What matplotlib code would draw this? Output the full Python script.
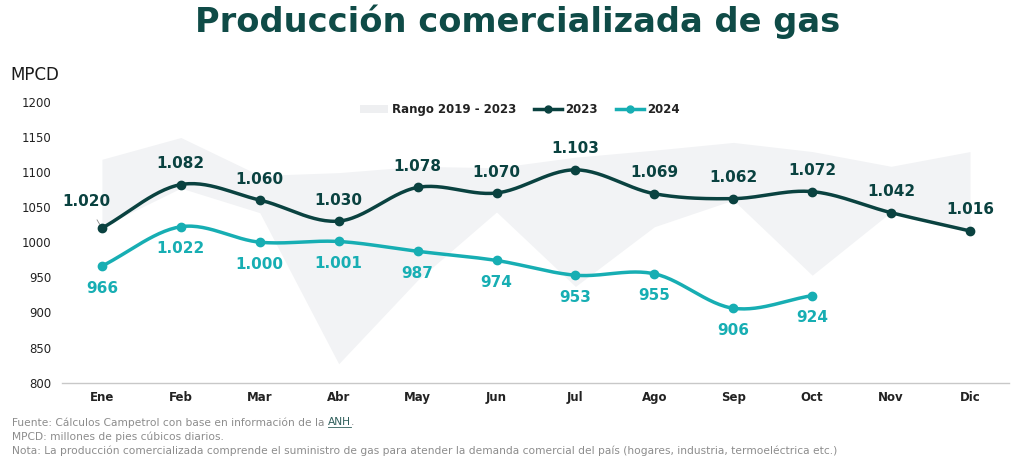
import numpy as np
import matplotlib
matplotlib.use("Agg")
import matplotlib.pyplot as plt
from matplotlib.patches import Patch
from matplotlib.lines import Line2D

months = ["Ene", "Feb", "Mar", "Abr", "May", "Jun", "Jul", "Ago", "Sep", "Oct", "Nov", "Dic"]
prod_2023 = [1020, 1082, 1060, 1030, 1078, 1070, 1103, 1069, 1062, 1072, 1042, 1016]
prod_2024 = [966, 1022, 1000, 1001, 987, 974, 953, 955, 906, 924]
range_upper = [1118, 1149, 1095, 1099, 1108, 1106, 1121, 1131, 1142, 1129, 1108, 1129]
range_lower = [1022, 1077, 1042, 827, 946, 1043, 937, 1022, 1060, 953, 1043, 1018]
yticks = [800, 850, 900, 950, 1000, 1050, 1100, 1150, 1200]

C23 = "#0A4240"
C24 = "#17AEB3"
CT = "#0F4B47"
GRAY = "#F2F3F5"
FOOT = "#8C8C8C"

def fmt(v):
    return f"{v:,}".replace(",", ".")

def smooth(xs, ys, n=30):
    xs = np.asarray(xs, float); ys = np.asarray(ys, float)
    px = np.concatenate([[2*xs[0]-xs[1]], xs, [2*xs[-1]-xs[-2]]])
    py = np.concatenate([[2*ys[0]-ys[1]], ys, [2*ys[-1]-ys[-2]]])
    ox, oy = [], []
    t = np.linspace(0, 1, n)
    for i in range(1, len(px)-2):
        for P, out in ((px, ox), (py, oy)):
            p0, p1, p2, p3 = P[i-1], P[i], P[i+1], P[i+2]
            out.extend(0.5*((2*p1) + (-p0+p2)*t + (2*p0-5*p1+4*p2-p3)*t**2 + (-p0+3*p1-3*p2+p3)*t**3))
    return np.array(ox), np.array(oy)

fig = plt.figure(figsize=(10.21, 4.58), dpi=100)
ax = fig.add_axes([0.0612, 0.1644, 0.9275, 0.6136])
x12 = np.arange(len(months))
x10 = np.arange(len(prod_2024))

ax.fill_between(x12, range_lower, range_upper, color=GRAY, lw=0, zorder=1)

sx, sy = smooth(x12, prod_2023)
ax.plot(sx, sy, color=C23, lw=2.5, zorder=3, solid_capstyle="round")
ax.plot(x12, prod_2023, "o", color=C23, ms=6, zorder=4)
sx, sy = smooth(x10, prod_2024)
ax.plot(sx, sy, color=C24, lw=2.5, zorder=3, solid_capstyle="round")
ax.plot(x10, prod_2024, "o", color=C24, ms=6, zorder=4)

for i, v in enumerate(prod_2023):
    if i == 0:
        ax.annotate(fmt(v), (i, v), xytext=(-16, 27), textcoords="offset pixels",
                    ha="center", va="center", fontsize=11, fontweight="bold", color=C23,
                    arrowprops=dict(arrowstyle="-", color="#888888", lw=0.6, shrinkA=7, shrinkB=3), zorder=5)
    else:
        ax.annotate(fmt(v), (i, v), xytext=(0, 21), textcoords="offset pixels",
                    ha="center", va="center", fontsize=11, fontweight="bold", color=C23, zorder=5)
for i, v in enumerate(prod_2024):
    ax.annotate(fmt(v), (i, v), xytext=(0, -22), textcoords="offset pixels",
                ha="center", va="center", fontsize=11, fontweight="bold", color=C24, zorder=5)

ax.set_xlim(-0.5, len(months)-0.5)
ax.set_ylim(800, 1200)
ax.set_yticks(yticks)
ax.set_yticklabels([str(t) for t in yticks], fontsize=8.5, color="#222222")
ax.set_xticks(x12)
ax.set_xticklabels(months, fontsize=8.5, fontweight="bold", color="#222222")
ax.tick_params(axis="y", length=0, pad=8)
ax.tick_params(axis="x", length=0, pad=6)
for s in ["top", "right", "left"]:
    ax.spines[s].set_visible(False)
ax.spines["bottom"].set_color("#C8C8C8")
ax.spines["bottom"].set_linewidth(1)

handles = [Patch(facecolor="#EEEFF1", edgecolor="none"),
           Line2D([], [], color=C23, lw=2.5, marker="o", ms=5),
           Line2D([], [], color=C24, lw=2.5, marker="o", ms=5)]
leg = ax.legend(handles, ["Rango 2019 - 2023", "2023", "2024"], loc="center",
                bbox_to_anchor=(0.483, 0.972), ncol=3, frameon=False,
                prop=dict(size=8.5, weight="bold"), handlelength=2.4, handletextpad=0.3,
                columnspacing=1.5, borderaxespad=0)
for t in leg.get_texts():
    t.set_color("#222222")

fig.text(0.507, 0.952, "Producción comercializada de gas", ha="center", va="center",
         fontsize=24.2, fontweight="bold", color=CT)
fig.text(0.010, 0.836, "MPCD", ha="left", va="center", fontsize=12, color="#1A1A1A")

ffam = ["Liberation Sans Narrow", "DejaVu Sans"]
fs = 7.65
t1 = fig.text(0.012, 0.078, "Fuente: Cálculos Campetrol con base en información de la ", ha="left",
              va="center", fontsize=fs, color=FOOT, family=ffam)
fig.canvas.draw()
bb = t1.get_window_extent()
t2 = fig.text(bb.x1/fig.bbox.width, 0.078, "ANH", ha="left", va="center", fontsize=fs,
              color="#2F5E5B", family=ffam)
fig.canvas.draw()
bb2 = t2.get_window_extent()
fig.add_artist(Line2D([bb2.x0/fig.bbox.width, bb2.x1/fig.bbox.width],
                      [(bb2.y0)/fig.bbox.height]*2, color="#2F5E5B", lw=0.6))
fig.text(bb2.x1/fig.bbox.width, 0.078, ".", ha="left", va="center", fontsize=fs, color=FOOT, family=ffam)
fig.text(0.012, 0.047, "MPCD: millones de pies cúbicos diarios.", ha="left", va="center",
         fontsize=fs, color=FOOT, family=ffam)
fig.text(0.012, 0.016, "Nota: La producción comercializada comprende el suministro de gas para atender la demanda comercial del país (hogares, industria, termoeléctrica etc.)",
         ha="left", va="center", fontsize=fs, color=FOOT, family=ffam)

fig.savefig("out.png", dpi=100, facecolor="white")
